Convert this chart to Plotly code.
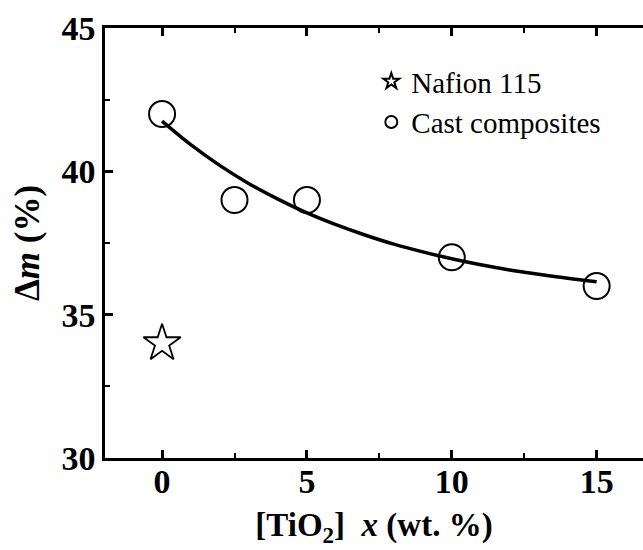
import plotly.graph_objects as go

# Data
nafion_x = [0]
nafion_y = [34.0]

cast_x = [0, 2.5, 5, 10, 15]
cast_y = [42.0, 39.0, 39.0, 37.0, 36.0]

# Fitted curve at unit steps
fit_x = [0, 1, 2, 3, 4, 5, 6, 7, 8, 9, 10, 11, 12, 13, 14, 15]
fit_y = [41.75, 40.92, 40.20, 39.57, 39.03, 38.55, 38.14, 37.78, 37.46,
         37.19, 36.95, 36.74, 36.56, 36.41, 36.27, 36.15]

x_ticks = [0, 5, 10, 15]
y_ticks = [30, 35, 40, 45]

FONT = "Liberation Serif"

fig = go.Figure()

fig.add_trace(go.Scatter(
    x=fit_x, y=fit_y, mode="lines", line=dict(color="black", width=3.5, shape="spline"),
    showlegend=False, hoverinfo="skip"))

fig.add_trace(go.Scatter(
    x=nafion_x, y=nafion_y, mode="markers", name="Nafion 115",
    marker=dict(symbol="star-open", size=28, color="black", line=dict(width=1.8, color="black"))))

fig.add_trace(go.Scatter(
    x=cast_x, y=cast_y, mode="markers", name="Cast composites",
    marker=dict(symbol="circle-open", size=26, color="black", line=dict(width=2, color="black"))))

axis_common = dict(
    showgrid=False, zeroline=False, showline=True, linecolor="black", linewidth=2.5,
    ticks="inside", ticklen=8, tickwidth=2.5, tickcolor="black",
    tickfont=dict(family=FONT, size=34, color="black", weight="bold"),
    minor=dict(ticks="inside", ticklen=5, tickwidth=2, tickcolor="black", dtick=2.5),
)

fig.update_xaxes(
    **axis_common, range=[-1.97, 16.6], tickvals=x_ticks, mirror="ticks",
    ticklabelstandoff=-9,
    title=dict(text="<b>[TiO<sub>2</sub>]&nbsp;&nbsp;<i>x</i> (wt. %)</b>",
               font=dict(family=FONT, size=33, color="black"), standoff=15))

fig.update_yaxes(
    **axis_common, range=[30, 45], tickvals=y_ticks, mirror=False,
    title=dict(text="<b>Δ<i>m</i> (%)</b>",
               font=dict(family=FONT, size=35, color="black"), standoff=12))

fig.update_layout(
    width=643, height=550,
    margin=dict(l=105, r=0, t=28, b=92),
    plot_bgcolor="white", paper_bgcolor="white",
    legend=dict(x=0.495, y=0.935, xanchor="left", yanchor="top",
                font=dict(family=FONT, size=29, color="black"),
                itemsizing="constant", bgcolor="rgba(0,0,0,0)", tracegroupgap=0),
)

fig.write_html("out.html", config={"displayModeBar": False},
               post_script="document.body.style.margin='0';")
